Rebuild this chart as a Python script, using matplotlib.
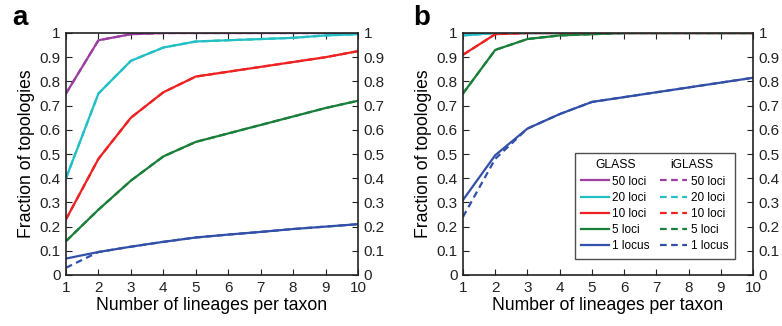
import matplotlib
matplotlib.use('Agg')
import matplotlib.pyplot as plt
from matplotlib.lines import Line2D

plt.rcParams['font.family'] = ['Liberation Sans', 'DejaVu Sans']

lineages = [1, 2, 3, 4, 5, 6, 7, 8, 9, 10]
labels = ['50 loci', '20 loci', '10 loci', '5 loci', '1 locus']
colors = ['#9b3fa0', '#22c0c4', '#ee2222', '#1a7f3a', '#3350a8']

# panel a, GLASS (solid)
a_glass = [
    [0.75, 0.97, 0.995, 1.0, 1.0, 1.0, 1.0, 1.0, 1.0, 1.0],
    [0.40, 0.75, 0.885, 0.94, 0.965, 0.97, 0.975, 0.98, 0.99, 0.995],
    [0.23, 0.48, 0.65, 0.755, 0.82, 0.84, 0.86, 0.88, 0.90, 0.925],
    [0.14, 0.27, 0.39, 0.49, 0.55, 0.585, 0.62, 0.655, 0.69, 0.72],
    [0.068, 0.095, 0.117, 0.137, 0.155, 0.167, 0.178, 0.19, 0.20, 0.21],
]
# panel a, iGLASS (dashed)
a_iglass = [
    [0.75, 0.97, 0.995, 1.0, 1.0, 1.0, 1.0, 1.0, 1.0, 1.0],
    [0.40, 0.75, 0.885, 0.94, 0.965, 0.97, 0.975, 0.98, 0.99, 0.995],
    [0.23, 0.48, 0.65, 0.755, 0.82, 0.84, 0.86, 0.88, 0.90, 0.925],
    [0.14, 0.27, 0.39, 0.49, 0.55, 0.585, 0.62, 0.655, 0.69, 0.72],
    [0.03, 0.095, 0.117, 0.137, 0.155, 0.167, 0.178, 0.19, 0.20, 0.21],
]
# panel b, GLASS (solid)
b_glass = [
    [1.0, 1.0, 1.0, 1.0, 1.0, 1.0, 1.0, 1.0, 1.0, 1.0],
    [0.99, 1.0, 1.0, 1.0, 1.0, 1.0, 1.0, 1.0, 1.0, 1.0],
    [0.91, 0.995, 1.0, 1.0, 1.0, 1.0, 1.0, 1.0, 1.0, 1.0],
    [0.75, 0.93, 0.975, 0.99, 0.995, 1.0, 1.0, 1.0, 1.0, 1.0],
    [0.31, 0.495, 0.605, 0.665, 0.715, 0.735, 0.755, 0.775, 0.795, 0.815],
]
# panel b, iGLASS (dashed)
b_iglass = [
    [1.0, 1.0, 1.0, 1.0, 1.0, 1.0, 1.0, 1.0, 1.0, 1.0],
    [0.99, 1.0, 1.0, 1.0, 1.0, 1.0, 1.0, 1.0, 1.0, 1.0],
    [0.91, 0.995, 1.0, 1.0, 1.0, 1.0, 1.0, 1.0, 1.0, 1.0],
    [0.75, 0.93, 0.975, 0.99, 0.995, 1.0, 1.0, 1.0, 1.0, 1.0],
    [0.24, 0.48, 0.605, 0.665, 0.715, 0.735, 0.755, 0.775, 0.795, 0.815],
]
yticks = [0, 0.1, 0.2, 0.3, 0.4, 0.5, 0.6, 0.7, 0.8, 0.9, 1]
ytick_labels = ['0', '0.1', '0.2', '0.3', '0.4', '0.5', '0.6', '0.7', '0.8', '0.9', '1']

fig = plt.figure(figsize=(7.82, 3.26), dpi=100)
W, H = 782, 326
ax_a = fig.add_axes([66 / W, 1 - 275 / H, 292 / W, 242 / H])
ax_b = fig.add_axes([463 / W, 1 - 275 / H, 290 / W, 242 / H])


def draw_panel(ax, glass, iglass, letter, letter_x):
    for g, c in zip(glass, colors):
        ax.plot(lineages, g, color=c, lw=1.6)
    for ig, c in zip(iglass, colors):
        ax.plot(lineages, ig, color=c, lw=1.6, ls=(0, (3, 2)))
    ax.set_xlim(1, 10)
    ax.set_ylim(0, 1)
    ax.set_xticks(lineages)
    ax.set_yticks(yticks)
    ax.set_yticklabels(ytick_labels)
    ax.tick_params(direction='in', top=True, right=True, labelright=True,
                   labelsize=11, length=4, colors='#222222', pad=4)
    for s in ax.spines.values():
        s.set_linewidth(1.2)
        s.set_color('#222222')
    ax.set_xlabel('Number of lineages per taxon', fontsize=12.7, labelpad=2)
    ax.set_ylabel('Fraction of topologies', fontsize=12.7, labelpad=3)
    ax.text(letter_x, 1.033, letter, transform=ax.transAxes, fontsize=20,
            fontweight='bold', va='baseline', ha='left')


draw_panel(ax_a, a_glass, a_iglass, 'a', -0.185)
draw_panel(ax_b, b_glass, b_iglass, 'b', -0.172)

# legend with two column headers (headers drawn as text over blank rows)
blank = Line2D([], [], color='none')
handles = [blank] + [Line2D([], [], color=c, lw=1.6) for c in colors]
handles += [blank] + [Line2D([], [], color=c, lw=1.6, ls=(0, (3, 2))) for c in colors]
leg_labels = [' '] + labels + [' '] + labels
leg = ax_b.legend(handles, leg_labels, ncol=2, loc='upper left',
                  bbox_to_anchor=((575 - 463) / 290, (275 - 153) / 242),
                  fontsize=8.5, frameon=True, fancybox=False,
                  edgecolor='#222222', handlelength=2.3, handletextpad=0.3,
                  columnspacing=0.9, labelspacing=0.35, borderpad=0.55,
                  borderaxespad=0)
leg.get_frame().set_linewidth(1.0)
ax_b.text((616 - 463) / 290, (275 - 165) / 242, 'GLASS', transform=ax_b.transAxes,
          fontsize=8.7, ha='center', va='center', zorder=10)
ax_b.text((692 - 463) / 290, (275 - 165) / 242, 'iGLASS', transform=ax_b.transAxes,
          fontsize=8.7, ha='center', va='center', zorder=10)

fig.savefig('out.png', dpi=100)
